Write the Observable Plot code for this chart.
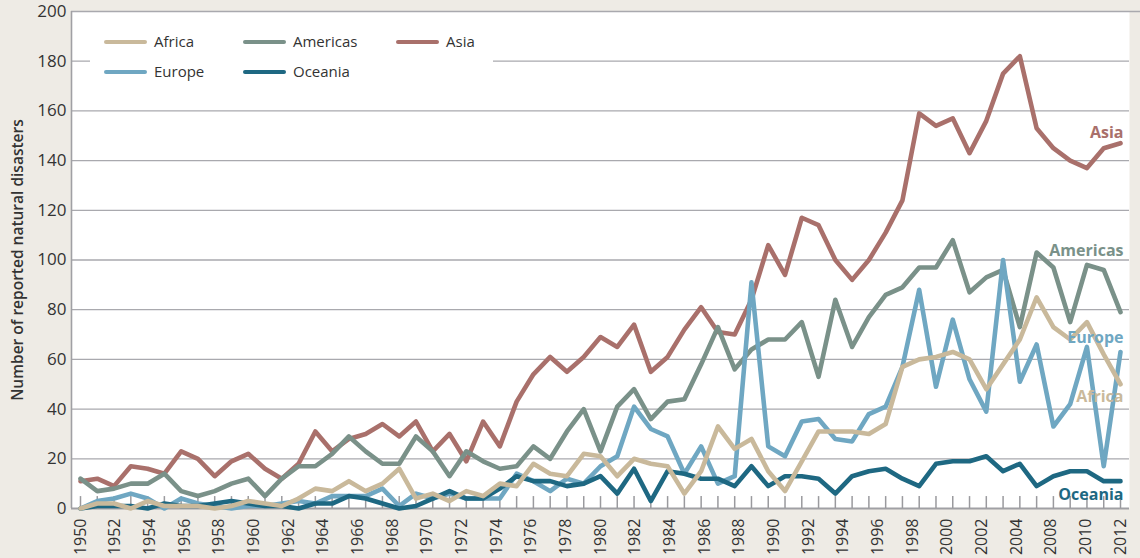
<!DOCTYPE html>
<html><head><meta charset="utf-8">
<script src="https://cdn.jsdelivr.net/npm/d3@7"></script>
<script src="https://cdn.jsdelivr.net/npm/@observablehq/plot@0.6"></script>
<style>
html,body{margin:0;padding:0;background:#eeebe5;}
#wrap{position:relative;width:1140px;height:558px;font-family:"Open Sans",sans-serif;}
#wrap svg{position:absolute;left:0;top:0;}
.lbox{position:absolute;background:#fff;}
.item{position:absolute;font-size:15px;color:#333;line-height:20px;white-space:nowrap;}
.sw{position:absolute;height:4px;border-radius:2px;width:43px;}
</style></head><body><div id="wrap"></div>
<script>
const years = d3.range(1950, 2013);
const regions = ["Africa", "Americas", "Asia", "Europe", "Oceania"];
const colors = ["#c9b99b", "#7a9189", "#a9706b", "#6fa7c2", "#1e6882"];

const africa = [0,2,2,0,3,1,1,1,0,1, 3,2,1,4,8,7,11,7,10,16, 4,6,3,7,5,10,9,18,14,13, 22,21,13,20,18,17,6,15,33,24, 28,15,7,19,31,31,31,30,34,57, 60,61,63,60,48,58,68,85,73,68, 75,62,50];
const americas = [12,7,8,10,10,14,7,5,7,10, 12,5,12,17,17,22,29,23,18,18, 29,23,13,23,19,16,17,25,20,31, 40,23,41,48,36,43,44,58,73,56, 64,68,68,75,53,84,65,77,86,89, 97,97,108,87,93,96,73,103,97,75, 98,96,79];
const asia = [11,12,9,17,16,14,23,20,13,19, 22,16,12,18,31,23,28,30,34,29, 35,23,30,19,35,25,43,54,61,55, 61,69,65,74,55,61,72,81,71,70, 84,106,94,117,114,100,92,100,111,124, 159,154,157,143,156,175,182,153,145,140, 137,145,147];
const europe = [0,3,4,6,4,0,4,2,1,0, 1,1,2,3,2,5,5,5,8,1, 6,4,6,4,4,4,14,11,7,12, 10,17,21,41,32,29,14,25,10,13, 91,25,21,35,36,28,27,38,41,57, 88,49,76,52,39,100,51,66,33,42, 65,17,63];
const oceania = [0,1,1,1,0,2,1,1,2,3, 2,1,1,0,2,2,5,4,2,0, 1,4,7,4,4,8,13,11,11,9, 10,13,6,16,3,15,14,12,12,9, 17,9,13,13,12,6,13,15,16,12, 9,18,19,19,21,15,18,9,13,15, 15,11,11];

const yTicks = [0,20,40,60,80,100,120,140,160,180,200];
const xTickLabels = ["1950","1952","1954","1956","1958","1960","1962","1964","1966","1968","1970","1972","1974","1976","1978","1980","1982","1984","1986","1988","1990","1992","1994","1996","1998","2000","2002","2004","2008","2010","2012"];
const yTitle = "Number of reported natural disasters";

const series = [africa, americas, asia, europe, oceania];
const rows = regions.flatMap((r, k) => years.map((yr, i) => ({year: yr, value: series[k][i], region: r})));

// end-label placement (value units, right edge)
const endLabelY = {Africa: 44.8, Americas: 103.6, Asia: 151, Europe: 68.6, Oceania: 5.4};
const endLabels = regions.map(r => ({region: r, pos: endLabelY[r]}));

const first = years[0], last = years[years.length - 1];
const xLabelPos = xTickLabels.map((_, i) => first + i * (last - first) / (xTickLabels.length - 1));
const labelOf = new Map(xLabelPos.map((p, i) => [p, xTickLabels[i]]));

const drawOrder = ["Asia", "Americas", "Europe", "Oceania", "Africa"];
const grid = "#a9a9ae";

const chart = Plot.plot({
  width: 1140, height: 558,
  marginLeft: 71, marginRight: 11, marginTop: 11, marginBottom: 50,
  insetLeft: 9, insetRight: 9,
  x: {domain: [first, last]},
  y: {domain: [0, 200]},
  color: {domain: regions, range: colors},
  style: {background: "transparent", fontFamily: "'Open Sans', sans-serif", overflow: "visible"},
  marks: [
    Plot.frame({fill: "white", stroke: null}),
    Plot.ruleY(yTicks.filter(d => d > 0 && d < 200), {stroke: grid, strokeWidth: 1.3}),
    Plot.ruleY([200], {stroke: grid, strokeWidth: 1.6, insetRight: -11}),
    Plot.ruleY([0], {stroke: "#a0a0a4", strokeWidth: 2}),
    Plot.ruleX([first], {dx: -9, stroke: "#a0a0a4", strokeWidth: 1.6}),
    Plot.ruleX(years, {y1: 0, y2: 4.8, stroke: "#9a9a9e", strokeWidth: 1.5}),
    Plot.axisY({ticks: yTicks, tickSize: 0, tickPadding: 5, fontSize: 17, color: "#333", label: null}),
    Plot.axisX({ticks: xLabelPos, tickSize: 0, tickRotate: -90, tickPadding: 10, tickFormat: d => labelOf.get(d), fontSize: 16, color: "#333", label: null}),
    ...drawOrder.map(r => Plot.line(rows.filter(d => d.region === r), {x: "year", y: "value", stroke: "region", strokeWidth: 4.6})),
    Plot.text(endLabels, {x: () => last, y: "pos", text: "region", fill: "region", textAnchor: "end", dx: 3, fontWeight: "bold", fontSize: 16}),
    Plot.text([yTitle], {frameAnchor: "left", dx: -53, rotate: -90, textAnchor: "middle", fontWeight: 600, fontSize: 15.5, fill: "#333"})
  ]
});

const wrap = document.getElementById("wrap");
wrap.appendChild(chart);

// legend overlay
const box = document.createElement("div");
box.className = "lbox";
Object.assign(box.style, {left: "90px", top: "26px", width: "403px", height: "62px"});
wrap.appendChild(box);
const legendLayout = {Africa: [104, 42], Americas: [243, 42], Asia: [396, 42], Europe: [104, 72], Oceania: [243, 72]};
regions.forEach((r, k) => {
  const [lx, ly] = legendLayout[r];
  const sw = document.createElement("div");
  sw.className = "sw";
  Object.assign(sw.style, {left: lx + "px", top: (ly - 2) + "px", background: colors[k]});
  wrap.appendChild(sw);
  const t = document.createElement("div");
  t.className = "item";
  t.textContent = r;
  Object.assign(t.style, {left: (lx + 50) + "px", top: (ly - 11) + "px"});
  wrap.appendChild(t);
});
</script></body></html>
